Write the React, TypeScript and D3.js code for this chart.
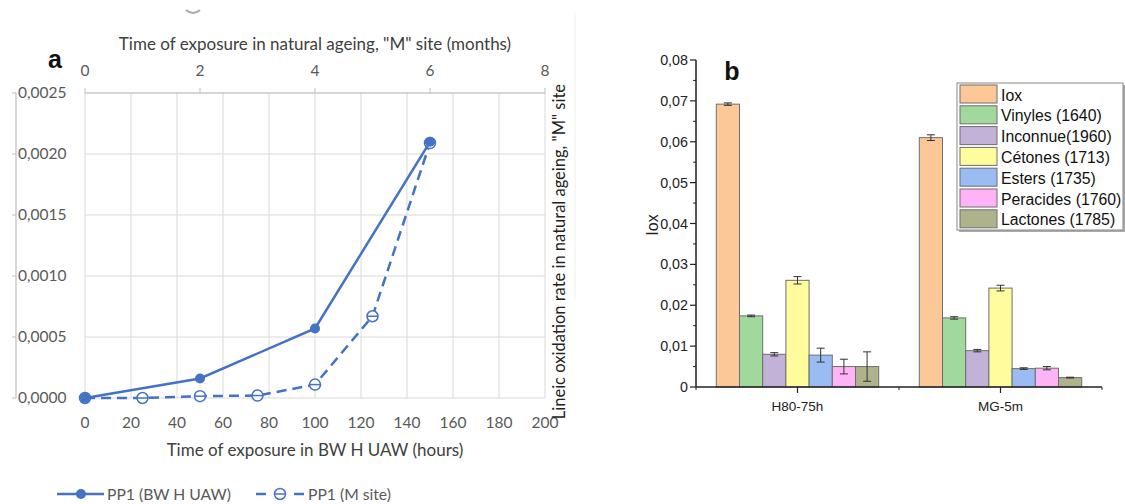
import React from "react";
import * as d3 from "d3";

// ---------- Panel a data ----------
const hoursBW = [0, 50, 100, 150];
const valuesBW = [0, 0.00016, 0.00057, 0.0021];
const monthsM = [0, 1, 2, 3, 4, 5, 6];
const valuesM = [0, 0, 0.000015, 0.00002, 0.00011, 0.00067, 0.00209];
const hourTicks = [0, 20, 40, 60, 80, 100, 120, 140, 160, 180, 200];
const monthTicks = [0, 2, 4, 6, 8];
const rateTicks = [0, 0.0005, 0.001, 0.0015, 0.002, 0.0025];

// ---------- Panel b data ----------
const groups = ["H80-75h", "MG-5m"];
const seriesNames = [
  "Iox",
  "Vinyles (1640)",
  "Inconnue(1960)",
  "Cétones (1713)",
  "Esters (1735)",
  "Peracides (1760)",
  "Lactones (1785)",
];
const seriesColors = ["#fdc897", "#a0d89e", "#c3b2d8", "#fffc9e", "#9bbcf2", "#ffb3f7", "#aeb38c"];
const valuesH80 = [0.0692, 0.0174, 0.008, 0.0261, 0.0078, 0.005, 0.005];
const errorsH80 = [0.0003, 0.0002, 0.0004, 0.0009, 0.0017, 0.0018, 0.0036];
const valuesMG = [0.061, 0.0169, 0.0089, 0.0242, 0.0045, 0.0046, 0.0023];
const errorsMG = [0.0007, 0.0003, 0.0003, 0.0007, 0.0002, 0.0004, 0.0001];
const ioxTicks = [0, 0.01, 0.02, 0.03, 0.04, 0.05, 0.06, 0.07, 0.08];

const fmtRate = (v: number) => d3.format(".4f")(v).replace(".", ",");
const fmtIox = (v: number) => (v === 0 ? "0" : d3.format(".2f")(v).replace(".", ","));

const BLUE = "#4472c4";
const fA = "Lato, 'Open Sans', sans-serif";
const fB = "'Liberation Sans', Arial, sans-serif";

function PanelA() {
  const xH = d3.scaleLinear().domain([0, 200]).range([85, 545]);
  const xM = d3.scaleLinear().domain([0, 8]).range([85, 545]);
  const y = d3.scaleLinear().domain([0, 0.0025]).range([398, 93]);
  const lineBW = d3
    .line<number>()
    .x((_, i) => xH(hoursBW[i]))
    .y((d) => y(d));
  const lineM = d3
    .line<number>()
    .x((_, i) => xM(monthsM[i]))
    .y((d) => y(d));

  const openMarker = (cx: number, cy: number, key: string | number) => (
    <g key={key}>
      <circle cx={cx} cy={cy} r={5.5} fill="white" stroke={BLUE} strokeWidth={1.5} />
      <line x1={cx - 5.5} x2={cx + 5.5} y1={cy} y2={cy} stroke={BLUE} strokeWidth={1.5} />
    </g>
  );

  return (
    <g>
      {/* faint artifacts */}
      <line x1={575} x2={575} y1={12} y2={300} stroke="#f0f0f0" strokeWidth={1} />
      <path d="M186,10 Q193,16 200,10" fill="none" stroke="#aaa" strokeWidth={2} />
      {/* gridlines */}
      {hourTicks.map((t) => (
        <line key={"gv" + t} x1={xH(t)} x2={xH(t)} y1={93} y2={398} stroke="#d9d9d9" strokeWidth={1} />
      ))}
      {rateTicks.map((t) => (
        <line key={"gh" + t} x1={85} x2={545} y1={y(t)} y2={y(t)} stroke="#d9d9d9" strokeWidth={1} />
      ))}
      {/* top axis */}
      <line x1={85} x2={545} y1={93} y2={93} stroke="#bfbfbf" strokeWidth={1.2} />
      {monthTicks.map((t) => (
        <g key={"mt" + t}>
          <line x1={xM(t)} x2={xM(t)} y1={93} y2={88} stroke="#bfbfbf" />
          <text x={xM(t)} y={76} textAnchor="middle" fontFamily={fA} fontSize={15.5} fill="#595959">
            {t}
          </text>
        </g>
      ))}
      <text x={315} y={50} textAnchor="middle" fontFamily={fA} fontSize={17} fill="#404040">
        Time of exposure in natural ageing, "M" site (months)
      </text>
      <text x={55} y={68} textAnchor="middle" fontFamily={fB} fontSize={25} fontWeight="bold" fill="#111">
        a
      </text>
      {/* left axis */}
      <line x1={16} x2={16} y1={93} y2={398} stroke="#bfbfbf" strokeWidth={1.2} />
      {rateTicks.map((t) => (
        <g key={"rt" + t}>
          <line x1={12} x2={16} y1={y(t)} y2={y(t)} stroke="#bfbfbf" />
          <text x={18} y={y(t) + 5} fontFamily={fA} fontSize={15.5} fill="#595959">
            {fmtRate(t)}
          </text>
        </g>
      ))}
      {/* bottom ticks */}
      {hourTicks.map((t) => (
        <text key={"ht" + t} x={xH(t)} y={428} textAnchor="middle" fontFamily={fA} fontSize={15.5} fill="#595959">
          {t}
        </text>
      ))}
      <text x={315} y={456} textAnchor="middle" fontFamily={fA} fontSize={17} fill="#404040">
        Time of exposure in BW H UAW (hours)
      </text>
      {/* right rotated title */}
      <text
        transform={`translate(560,84) rotate(-90)`}
        textAnchor="end"
        fontFamily={fA}
        fontSize={16.5}
        fill="#222"
        dy={5}
      >
        Lineic oxidation rate in natural ageing, "M" site
      </text>
      {/* series */}
      <path d={lineM(valuesM) || ""} fill="none" stroke={BLUE} strokeWidth={2.5} strokeDasharray="10,6" />
      {valuesM.map((v, i) => openMarker(xM(monthsM[i]), y(v), "m" + i))}
      <path d={lineBW(valuesBW) || ""} fill="none" stroke={BLUE} strokeWidth={2.5} />
      {valuesBW.map((v, i) => (
        <circle key={"b" + i} cx={xH(hoursBW[i])} cy={y(v)} r={5} fill={BLUE} />
      ))}
      {/* legend */}
      <line x1={57} x2={104} y1={494} y2={494} stroke={BLUE} strokeWidth={2.5} />
      <circle cx={81} cy={494} r={5} fill={BLUE} />
      <text x={107} y={499.5} fontFamily={fA} fontSize={15.7} fill="#595959">
        PP1 (BW H UAW)
      </text>
      <line x1={256} x2={266} y1={494} y2={494} stroke={BLUE} strokeWidth={2.5} />
      <line x1={294} x2={304} y1={494} y2={494} stroke={BLUE} strokeWidth={2.5} />
      {openMarker(280, 494, "lg")}
      <text x={308} y={499.5} fontFamily={fA} fontSize={15.7} fill="#595959">
        PP1 (M site)
      </text>
    </g>
  );
}

function PanelB() {
  const x0 = d3.scaleBand<string>().domain(groups).range([696, 1102]).paddingInner(0).paddingOuter(0);
  const bw = x0.bandwidth();
  const x1 = d3.scaleBand<string>().domain(seriesNames).range([bw * 0.1, bw * 0.9]);
  const y = d3.scaleLinear().domain([0, 0.08]).range([387, 60]);
  const groupValues = [valuesH80, valuesMG];
  const groupErrors = [errorsH80, errorsMG];
  const minorTicks = d3.range(0.005, 0.08, 0.01);
  const boundaries = [696, ...groups.map((g) => (x0(g) as number) + bw)];

  return (
    <g>
      {/* bars */}
      {groups.map((g, gi) =>
        seriesNames.map((s, si) => {
          const v = groupValues[gi][si];
          const e = groupErrors[gi][si];
          const bx = (x0(g) as number) + (x1(s) as number);
          const cx = bx + x1.bandwidth() / 2;
          return (
            <g key={g + s}>
              <rect
                x={bx}
                y={y(v)}
                width={x1.bandwidth()}
                height={y(0) - y(v)}
                fill={seriesColors[si]}
                stroke="#6e6e6e"
                strokeWidth={1}
              />
              <line x1={cx} x2={cx} y1={y(v + e)} y2={y(v - e)} stroke="#333" strokeWidth={1} />
              <line x1={cx - 4} x2={cx + 4} y1={y(v + e)} y2={y(v + e)} stroke="#333" strokeWidth={1} />
              <line x1={cx - 4} x2={cx + 4} y1={y(v - e)} y2={y(v - e)} stroke="#333" strokeWidth={1} />
            </g>
          );
        })
      )}
      {/* y axis */}
      <line x1={696} x2={696} y1={60} y2={387} stroke="#222" strokeWidth={1.5} />
      {ioxTicks.map((t) => (
        <g key={"it" + t}>
          <line x1={690} x2={696} y1={y(t)} y2={y(t)} stroke="#222" strokeWidth={1.2} />
          <text x={688} y={y(t) + 5} textAnchor="end" fontFamily={fB} fontSize={14.3} fill="#222">
            {fmtIox(t)}
          </text>
        </g>
      ))}
      {minorTicks.map((t) => (
        <line key={"mi" + t} x1={693} x2={696} y1={y(t)} y2={y(t)} stroke="#222" strokeWidth={1} />
      ))}
      <text transform={`translate(658,225) rotate(-90)`} textAnchor="middle" fontFamily={fB} fontSize={16} fill="#222">
        Iox
      </text>
      {/* x axis */}
      <line x1={696} x2={1102} y1={387} y2={387} stroke="#222" strokeWidth={1.5} />
      {boundaries.map((b, i) => (
        <line key={"bd" + i} x1={b} x2={b} y1={387} y2={390} stroke="#222" strokeWidth={1} />
      ))}
      {groups.map((g) => {
        const cx = (x0(g) as number) + bw / 2;
        return (
          <g key={"gx" + g}>
            <line x1={cx} x2={cx} y1={387} y2={393} stroke="#222" strokeWidth={1.2} />
            <text x={cx} y={411} textAnchor="middle" fontFamily={fB} fontSize={13.5} fill="#222">
              {g}
            </text>
          </g>
        );
      })}
      <text x={732} y={80} textAnchor="middle" fontFamily={fB} fontSize={25} fontWeight="bold" fill="#111">
        b
      </text>
      {/* legend */}
      <rect x={959} y={85} width={166} height={147} fill="#aaa" />
      <rect x={957} y={83} width={166} height={147} fill="white" stroke="#888" strokeWidth={1} />
      {seriesNames.map((s, i) => (
        <g key={"lg" + s}>
          <rect x={960} y={85 + i * 20.8} width={37} height={18} fill={seriesColors[i]} stroke="#6e6e6e" strokeWidth={1} />
          <text x={1001} y={100.5 + i * 20.8} fontFamily={fB} fontSize={15.8} fill="#111">
            {s}
          </text>
        </g>
      ))}
    </g>
  );
}

export default function App() {
  return (
    <svg width={1125} height={504} style={{ position: "absolute", left: 0, top: 0, background: "white" }}>
      <rect x={0} y={0} width={1125} height={504} fill="white" />
      <PanelA />
      <PanelB />
    </svg>
  );
}
